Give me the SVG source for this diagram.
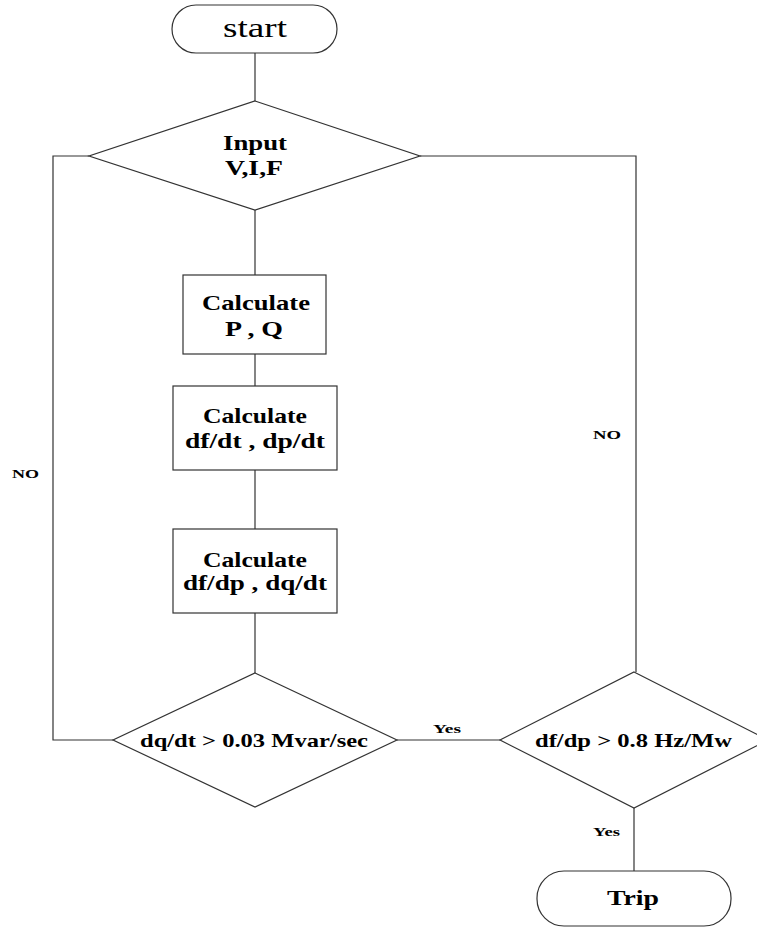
<svg xmlns="http://www.w3.org/2000/svg" width="757" height="927" viewBox="0 0 757 927">
<style>
.s{fill:#fff;stroke:#333;stroke-width:1.2}
.c{fill:none;stroke:#333;stroke-width:1.2}
.t{font-family:"Liberation Serif","Times New Roman",serif;font-weight:bold;fill:#000}
.r{font-family:"Liberation Serif","Times New Roman",serif;fill:#000}
</style>
<rect width="757" height="927" fill="#fff"/>
<g id="connectors">
<path class="c" d="M255,53 V101"/>
<path class="c" d="M255,210 V275"/>
<path class="c" d="M255,354 V386"/>
<path class="c" d="M255,470 V529"/>
<path class="c" d="M255,613 V673"/>
<path class="c" d="M113,740 H53 V156 H89"/>
<path class="c" d="M420,156 H636 V672"/>
<path class="c" d="M397,740 H500"/>
<path class="c" d="M634,808 V871"/>
<text class="t" x="12" y="478" font-size="13" textLength="27" lengthAdjust="spacingAndGlyphs">NO</text>
<text class="t" x="593" y="439" font-size="13" textLength="28" lengthAdjust="spacingAndGlyphs">NO</text>
<text class="t" x="433" y="733" font-size="13" textLength="28" lengthAdjust="spacingAndGlyphs">Yes</text>
<text class="t" x="593" y="836" font-size="13" textLength="27" lengthAdjust="spacingAndGlyphs">Yes</text>
</g>
<g id="start">
<rect class="s" x="172" y="5" width="165" height="48" rx="24" ry="24"/>
<text class="r" x="223" y="37" font-size="27" textLength="64" lengthAdjust="spacingAndGlyphs">start</text>
</g>
<g id="input">
<polygon class="s" points="255,101 420,156 255,210 89,156"/>
<text class="t" x="223" y="150" font-size="21" textLength="64" lengthAdjust="spacingAndGlyphs">Input</text>
<text class="t" x="225" y="175" font-size="21" textLength="58" lengthAdjust="spacingAndGlyphs">V,I,F</text>
</g>
<g id="calcPQ">
<rect class="s" x="183" y="275" width="143" height="79"/>
<text class="t" x="202" y="310" font-size="22" textLength="108" lengthAdjust="spacingAndGlyphs">Calculate</text>
<text class="t" x="225" y="336" font-size="22" textLength="58" lengthAdjust="spacingAndGlyphs">P , Q</text>
</g>
<g id="calcDfdt">
<rect class="s" x="173" y="386" width="164" height="84"/>
<text class="t" x="203" y="423" font-size="22" textLength="104" lengthAdjust="spacingAndGlyphs">Calculate</text>
<text class="t" x="185" y="448" font-size="22" textLength="140" lengthAdjust="spacingAndGlyphs">df/dt , dp/dt</text>
</g>
<g id="calcDfdp">
<rect class="s" x="173" y="529" width="164" height="84"/>
<text class="t" x="203" y="567" font-size="22" textLength="104" lengthAdjust="spacingAndGlyphs">Calculate</text>
<text class="t" x="183" y="590" font-size="22" textLength="144" lengthAdjust="spacingAndGlyphs">df/dp , dq/dt</text>
</g>
<g id="dqCheck">
<polygon class="s" points="255,673 397,740 255,807 113,740"/>
<text class="t" x="140" y="747" font-size="19" textLength="228" lengthAdjust="spacingAndGlyphs">dq/dt &gt; 0.03 Mvar/sec</text>
</g>
<g id="dfdpCheck">
<polygon class="s" points="634,672 768,740 634,808 500,740"/>
<text class="t" x="535" y="747" font-size="19" textLength="197" lengthAdjust="spacingAndGlyphs">df/dp &gt; 0.8 Hz/Mw</text>
</g>
<g id="trip">
<rect class="s" x="537" y="871" width="194" height="55" rx="27" ry="27"/>
<text class="t" x="607" y="905" font-size="22" textLength="52" lengthAdjust="spacingAndGlyphs">Trip</text>
</g>
</svg>
